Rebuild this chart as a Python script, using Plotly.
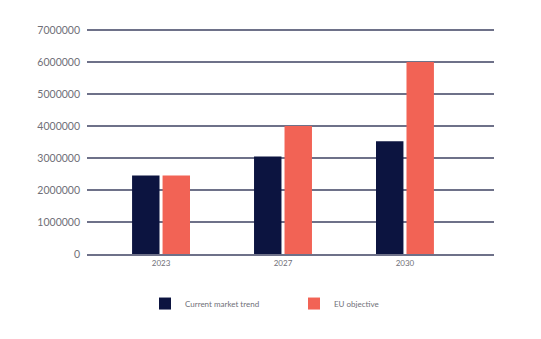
import plotly.graph_objects as go

categories = ["2023", "2027", "2030"]
current_trend = [2450000, 3050000, 3520000]
eu_objective = [2450000, 4000000, 6000000]
y_ticks = [0, 1000000, 2000000, 3000000, 4000000, 5000000, 6000000, 7000000]

NAVY = "#0c1440"
CORAL = "#f26355"
GRID = "#6e7189"
FONT = "Lato"
TXT = "#707078"

fig = go.Figure()
fig.add_trace(go.Bar(name="Current market trend", x=categories, y=current_trend,
                     marker=dict(color=NAVY, line=dict(width=0))))
fig.add_trace(go.Bar(name="EU objective", x=categories, y=eu_objective,
                     marker=dict(color=CORAL, line=dict(width=0))))

fig.update_layout(
    width=541, height=339,
    margin=dict(l=87, r=47, t=28, b=85),
    paper_bgcolor="white", plot_bgcolor="white",
    barmode="group", bargap=0.5, bargroupgap=0.1,
    font=dict(family=FONT, color=TXT),
    showlegend=True,
    legend=dict(orientation="h", x=(145 - 87) / 407, xanchor="left", y=-0.155, yanchor="top",
                font=dict(size=8, color=TXT), entrywidth=104,
                traceorder="normal"),
)
fig.update_xaxes(
    type="category", range=[-0.607, 2.73],
    showgrid=False, showline=True, linecolor=GRID, linewidth=2,
    ticks="", tickfont=dict(size=8, color=TXT),
)
fig.update_yaxes(
    range=[0, 7062500], tickvals=y_ticks, ticktext=[str(v) for v in y_ticks],
    showgrid=True, gridcolor=GRID, gridwidth=1.6,
    zeroline=False, showline=False, ticks="", ticklabelstandoff=6,
    tickfont=dict(size=10.5, color=TXT),
)

fig.write_html("out.html")
